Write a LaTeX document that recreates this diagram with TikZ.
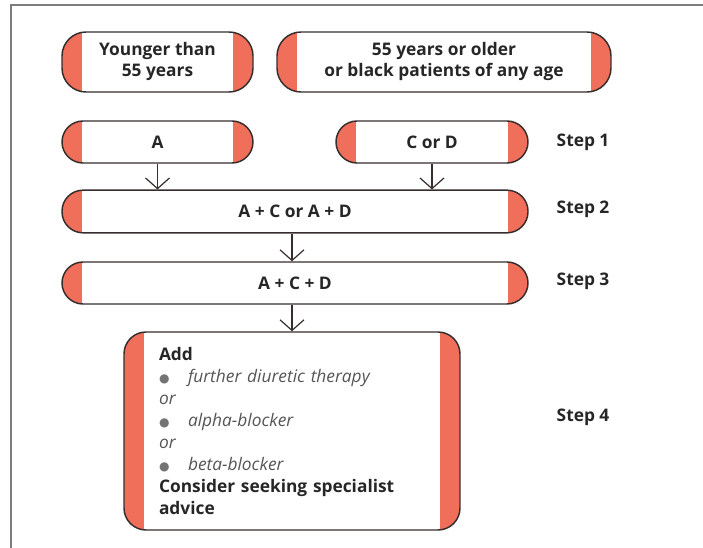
\documentclass[tikz,border=0pt]{standalone}
\usepackage{fontspec}
\setmainfont{Open Sans}
\newfontfamily\dotfont{DejaVu Sans}
\usetikzlibrary{arrows.meta,positioning}
\definecolor{capred}{RGB}{239,111,91}
\definecolor{edgegray}{RGB}{55,45,45}
\definecolor{framegray}{RGB}{125,125,125}
\definecolor{textgray}{RGB}{85,85,85}
\definecolor{dotgray}{RGB}{115,115,115}
\newcommand{\drugitem}[1]{\makebox[21.75pt][l]{\textcolor{dotgray}{\dotfont\fontsize{9}{9}\selectfont ●}}{\mdseries\itshape\color{textgray}#1}}
\newcommand{\ortext}{{\mdseries\itshape\color{textgray}or}}

\begin{document}
\begin{tikzpicture}[x=0.75pt, y=-0.75pt, font=\fontsize{13}{15.75}\selectfont\bfseries]
    \tikzstyle{pill}=[draw=edgegray, line width=1.1pt, rounded corners=15.75pt, align=center, inner sep=0pt,
      text=black!85,
      path picture={
        \fill[capred, sharp corners] (path picture bounding box.north west) rectangle ([xshift=15pt]path picture bounding box.south west);
        \fill[capred, sharp corners] (path picture bounding box.north east) rectangle ([xshift=-15pt]path picture bounding box.south east);}]
    \tikzstyle{steplabel}=[anchor=west, text=black!85]
    \tikzstyle{arr}=[draw=edgegray, line width=0.9pt, -{Straight Barb[length=8pt, width=18pt]}]
    \useasboundingbox (0,0) rectangle (703,548);
    \draw[framegray, line width=1.5pt] (11,548) -- (11,5) -- (703,5);
    % patient groups
    \node[pill, minimum width=143.25pt, minimum height=45pt, rounded corners=18pt] (young) at (157.5,62) {Younger than\\55 years};
    \node[pill, minimum width=250.5pt, minimum height=45pt, rounded corners=18pt] (older) at (444,62) {55 years or older\\or black patients of any age};
    % steps
    \node[pill, minimum width=143.25pt, minimum height=31.5pt] (a) at (157.5,142) {A};
    \node[pill, minimum width=144pt, minimum height=31.5pt] (cd) at (432,142) {C or D};
    \node[pill, minimum width=349.5pt, minimum height=32pt] (acord) at (295,211.5) {A + C or A + D};
    \node[pill, minimum width=349.5pt, minimum height=31.5pt] (acd) at (295,283) {A + C + D};
    \node[pill, minimum width=252pt, minimum height=148.5pt, rounded corners=16.5pt, align=left,
      inner xsep=26.25pt, text width=199.5pt, font=\fontsize{13}{16.5}\selectfont\bfseries] (add) at (292,431)
      {Add\\
       \drugitem{further diuretic therapy}\\
       \ortext\\
       \drugitem{alpha-blocker}\\
       \ortext\\
       \drugitem{beta-blocker}\\
       Consider seeking specialist\\
       advice};
    \node[steplabel] (step1) at (552,142) {Step 1};
    \node[steplabel] (step2) at (552,209) {Step 2};
    \node[steplabel] (step3) at (552,281) {Step 3};
    \node[steplabel] (step4) at (552,417) {Step 4};
    \draw[arr] (a.south) -- (a.south |- acord.north);
    \draw[arr] (cd.south) -- (cd.south |- acord.north);
    \draw[arr] (acord.south -| add.north) -- (add.north |- acd.north);
    \draw[arr] (acd.south -| add.north) -- (add.north);
  \end{tikzpicture}
\end{document}
